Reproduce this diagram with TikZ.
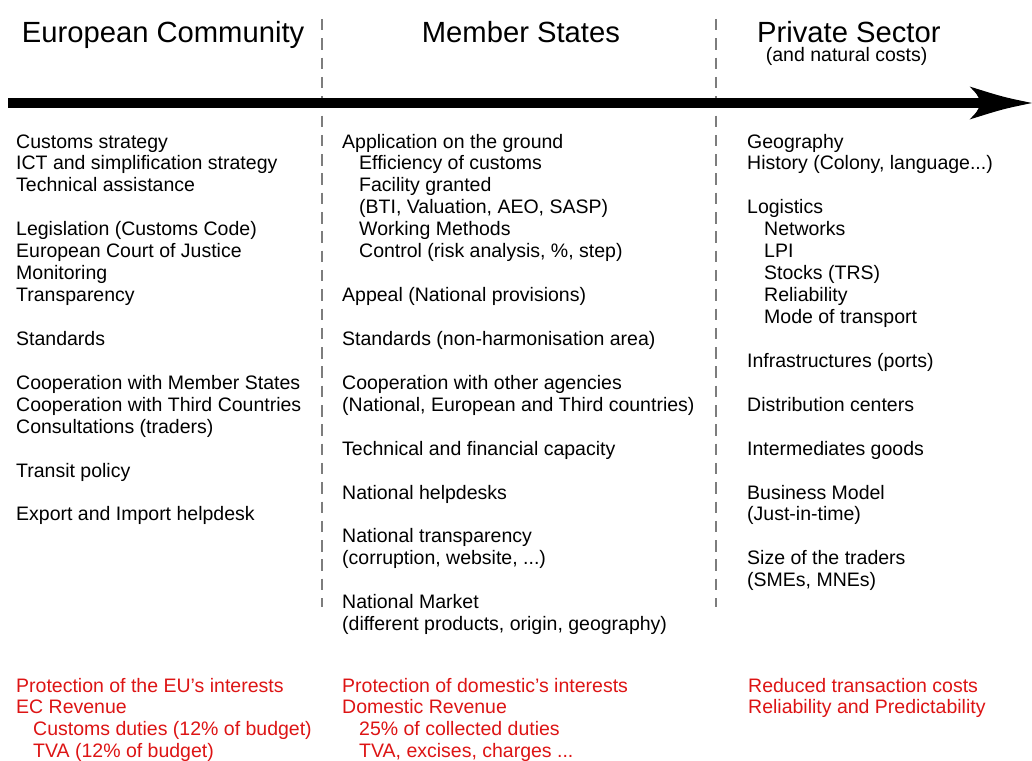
\documentclass[tikz,border=0pt]{standalone}
\usepackage{fontspec}
\setmainfont{Liberation Sans}
\definecolor{redtxt}{RGB}{221,20,20}
\definecolor{sepgray}{RGB}{125,125,125}
\newcommand{\ind}{\hspace*{17pt}}
\begin{document}
\begin{tikzpicture}[x=1pt,y=-1pt,
  body/.style={anchor=base west,inner sep=0pt,font=\fontsize{19.5}{21.94}\selectfont},
  hdr/.style={anchor=base west,inner sep=0pt,font=\fontsize{29.2}{34}\selectfont},
  redtext/.style={body,text=redtxt},
  sepline/.style={draw=sepgray,line width=1.8pt,dash pattern=on 11.5pt off 7.8pt},
  shaft/.style={draw=black,line width=10.5pt},
]
\useasboundingbox (0,0) rectangle (1032,760);

% headers
\node[hdr] (hEC) at (21.7,42.5) {European Community};
\node[hdr] (hMS) at (421.7,42.5) {Member States};
\node[hdr] (hPS) at (757,42.5) {Private Sector};
\node[body] (sPS) at (765.7,62) {(and natural costs)};

% separators
\coordinate (s1a) at (322,19);
\coordinate (s1b) at (322,607);
\coordinate (s2a) at (716,19);
\coordinate (s2b) at (716,607);
\draw[sepline] (s1a) -- (s1b);
\draw[sepline] (s2a) -- (s2b);

% arrow
\coordinate (aS) at (8,103);
\coordinate (aN) at (985,103);
\coordinate (aT) at (1032,103);
\draw[shaft] (aS) -- (aN);
\fill[black] (aT) .. controls (1003,97) .. (969.5,86.5)
  .. controls (977,94) .. (981,103)
  .. controls (977,112) .. (969.5,119.5)
  .. controls (1003,109) .. (aT) -- cycle;

% columns
\node[body] (cEC) at (16,148) {\begin{tabular}[t]{@{}l@{}}
Customs strategy\\
ICT and simplification strategy\\
Technical assistance\\
\\
Legislation (Customs Code)\\
European Court of Justice\\
Monitoring\\
Transparency\\
\\
Standards\\
\\
Cooperation with Member States\\
Cooperation with Third Countries\\
Consultations (traders)\\
\\
Transit policy\\
\\
Export and Import helpdesk
\end{tabular}};

\node[body] (cMS) at (342,148) {\begin{tabular}[t]{@{}l@{}}
Application on the ground\\
\ind Efficiency of customs\\
\ind Facility granted\\
\ind (BTI, Valuation, AEO, SASP)\\
\ind Working Methods\\
\ind Control (risk analysis, \%, step)\\
\\
Appeal (National provisions)\\
\\
Standards (non-harmonisation area)\\
\\
Cooperation with other agencies\\
(National, European and Third countries)\\
\\
Technical and financial capacity\\
\\
National helpdesks\\
\\
National transparency\\
(corruption, website, ...)\\
\\
National Market\\
(different products, origin, geography)
\end{tabular}};

\node[body] (cPS) at (747,148) {\begin{tabular}[t]{@{}l@{}}
Geography\\
History (Colony, language...)\\
\\
Logistics\\
\ind Networks\\
\ind LPI\\
\ind Stocks (TRS)\\
\ind Reliability\\
\ind Mode of transport\\
\\
Infrastructures (ports)\\
\\
Distribution centers\\
\\
Intermediates goods\\
\\
Business Model\\
(Just-in-time)\\
\\
Size of the traders\\
(SMEs, MNEs)
\end{tabular}};

% outcomes
\node[redtext] (rEC) at (16,692) {\begin{tabular}[t]{@{}l@{}}
Protection of the EU's interests\\
EC Revenue\\
\ind Customs duties (12\% of budget)\\
\ind TVA (12\% of budget)
\end{tabular}};

\node[redtext] (rMS) at (342,692) {\begin{tabular}[t]{@{}l@{}}
Protection of domestic's interests\\
Domestic Revenue\\
\ind 25\% of collected duties\\
\ind TVA, excises, charges ...
\end{tabular}};

\node[redtext] (rPS) at (748,692) {\begin{tabular}[t]{@{}l@{}}
Reduced transaction costs\\
Reliability and Predictability
\end{tabular}};
\end{tikzpicture}
\end{document}
